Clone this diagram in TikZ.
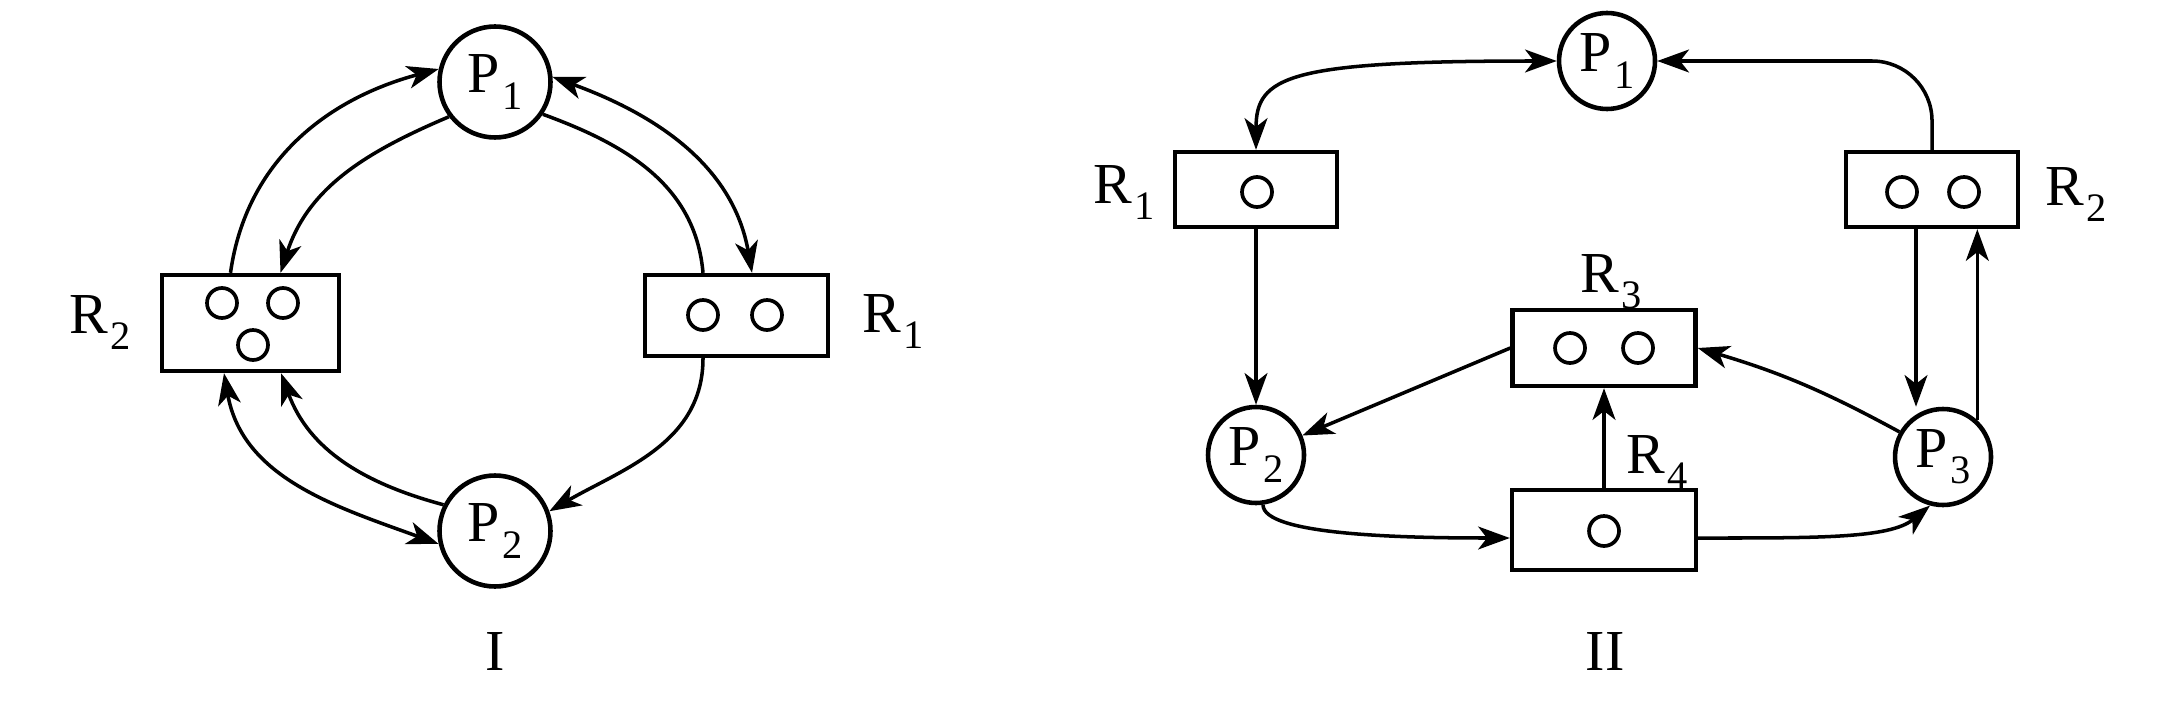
\documentclass[tikz,border=0pt]{standalone}
\usepackage{fontspec}
\setmainfont{Liberation Serif}
\usetikzlibrary{arrows.meta}
\newcommand{\ix}[1]{\kern0.6pt\raisebox{-0.28em}{\fontsize{11.5}{14}\selectfont #1}}

\begin{document}
\begin{tikzpicture}[
    font=\fontsize{16.5}{20}\selectfont,
    proc/.style={circle, draw, line width=1.3pt, inner sep=0pt, minimum size=0.96cm},
    res/.style={rectangle, draw, line width=1.25pt, inner sep=0pt},
    lbl/.style={inner sep=0pt, anchor=base west},
    tok/.style={line width=1.05pt},
    >={Stealth[length=9pt,width=6.5pt,inset=2.5pt]}
  ]
  \useasboundingbox (0,0) rectangle (21.72,7.24);

  % graph I
  \draw
    (4.95,6.42) node[proc,minimum size=1.11cm] (ap1) {P\ix{1}}
    (4.95,1.93) node[proc,minimum size=1.11cm] (ap2) {P\ix{2}}
    (2.505,4.01) node[res,minimum width=1.77cm,minimum height=0.96cm] (ar2) {}
    (7.365,4.085) node[res,minimum width=1.83cm,minimum height=0.81cm] (ar1) {}
    (0.69,3.91) node[lbl] (ar2l) {R\ix{2}}
    (8.62,3.92) node[lbl] (ar1l) {R\ix{1}}
    (4.95,0.54) node[lbl,anchor=base] (cap1) {I};
  \foreach \x/\y in {2.22/4.21, 2.83/4.21, 2.53/3.79, 7.03/4.09, 7.67/4.09}
    \draw[tok] (\x,\y) circle (0.15);
  \begin{scope}[->, line width=1pt]
    \draw ([xshift=-0.2cm]ar2.north) to[out=82,in=195] (ap1.167);
    \draw (ap1.217) to[out=203,in=72] ([xshift=0.3cm]ar2.north);
    \draw[<->] (ap1.5) to[out=-20,in=100] ([xshift=0.155cm]ar1.north);
    \draw[-] (ap1.-34) to[out=-20,in=95] ([xshift=-0.335cm]ar1.north);
    \draw ([xshift=-0.335cm]ar1.south) to[out=-90,in=30] (ap2.20);
    \draw[<->] ([xshift=-0.265cm]ar2.south) to[out=-80,in=160] (ap2.193);
    \draw (ap2.153) to[out=165,in=-70] ([xshift=0.305cm]ar2.south);
  \end{scope}

  % graph II
  \draw
    (16.07,6.63) node[proc] (bp1) {P\ix{1}}
    (12.56,2.69) node[proc] (bp2) {P\ix{2}}
    (19.43,2.67) node[proc] (bp3) {P\ix{3}}
    (12.56,5.345) node[res,minimum width=1.62cm,minimum height=0.75cm] (br1) {}
    (19.32,5.345) node[res,minimum width=1.72cm,minimum height=0.75cm] (br2) {}
    (16.04,3.76) node[res,minimum width=1.83cm,minimum height=0.76cm] (br3) {}
    (16.04,1.94) node[res,minimum width=1.84cm,minimum height=0.80cm] (br4) {}
    (10.93,5.21) node[lbl] (br1l) {R\ix{1}}
    (20.45,5.19) node[lbl] (br2l) {R\ix{2}}
    (15.80,4.32) node[lbl] (br3l) {R\ix{3}}
    (16.26,2.51) node[lbl] (br4l) {R\ix{4}}
    (16.05,0.54) node[lbl,anchor=base] (cap2) {II};
  \foreach \x/\y in {12.57/5.32, 19.02/5.32, 19.64/5.32, 15.70/3.76, 16.38/3.76, 16.04/1.93}
    \draw[tok] (\x,\y) circle (0.15);
  \begin{scope}[->, line width=1pt]
    \draw[<->] (bp1.west) to[out=180,in=90,out looseness=2.2,in looseness=0.6] (br1.north);
    \draw[rounded corners=0.6cm] (br2.north) |- (bp1.east);
    \draw (br1.south) -- (bp2.north);
    \draw (br3.west) -- (bp2);
    \draw (bp3) to[bend right=6] (br3.east);
    \draw (br4.north) -- (br3.south);
    \draw (bp2.-82) .. controls +(0,-0.3) and +(-1.1,0) .. ([yshift=-0.08cm]br4.west);
    \draw ([yshift=-0.08cm]br4.east) .. controls +(1.2,0) and +(-0.4,-0.33) .. (bp3.255);
    \draw ([xshift=-0.16cm]br2.south) -- ([xshift=-0.16cm]br2.south |- bp3.north);
    \draw (bp3.47) -- (bp3.47 |- br2.south);
  \end{scope}
\end{tikzpicture}
\end{document}
